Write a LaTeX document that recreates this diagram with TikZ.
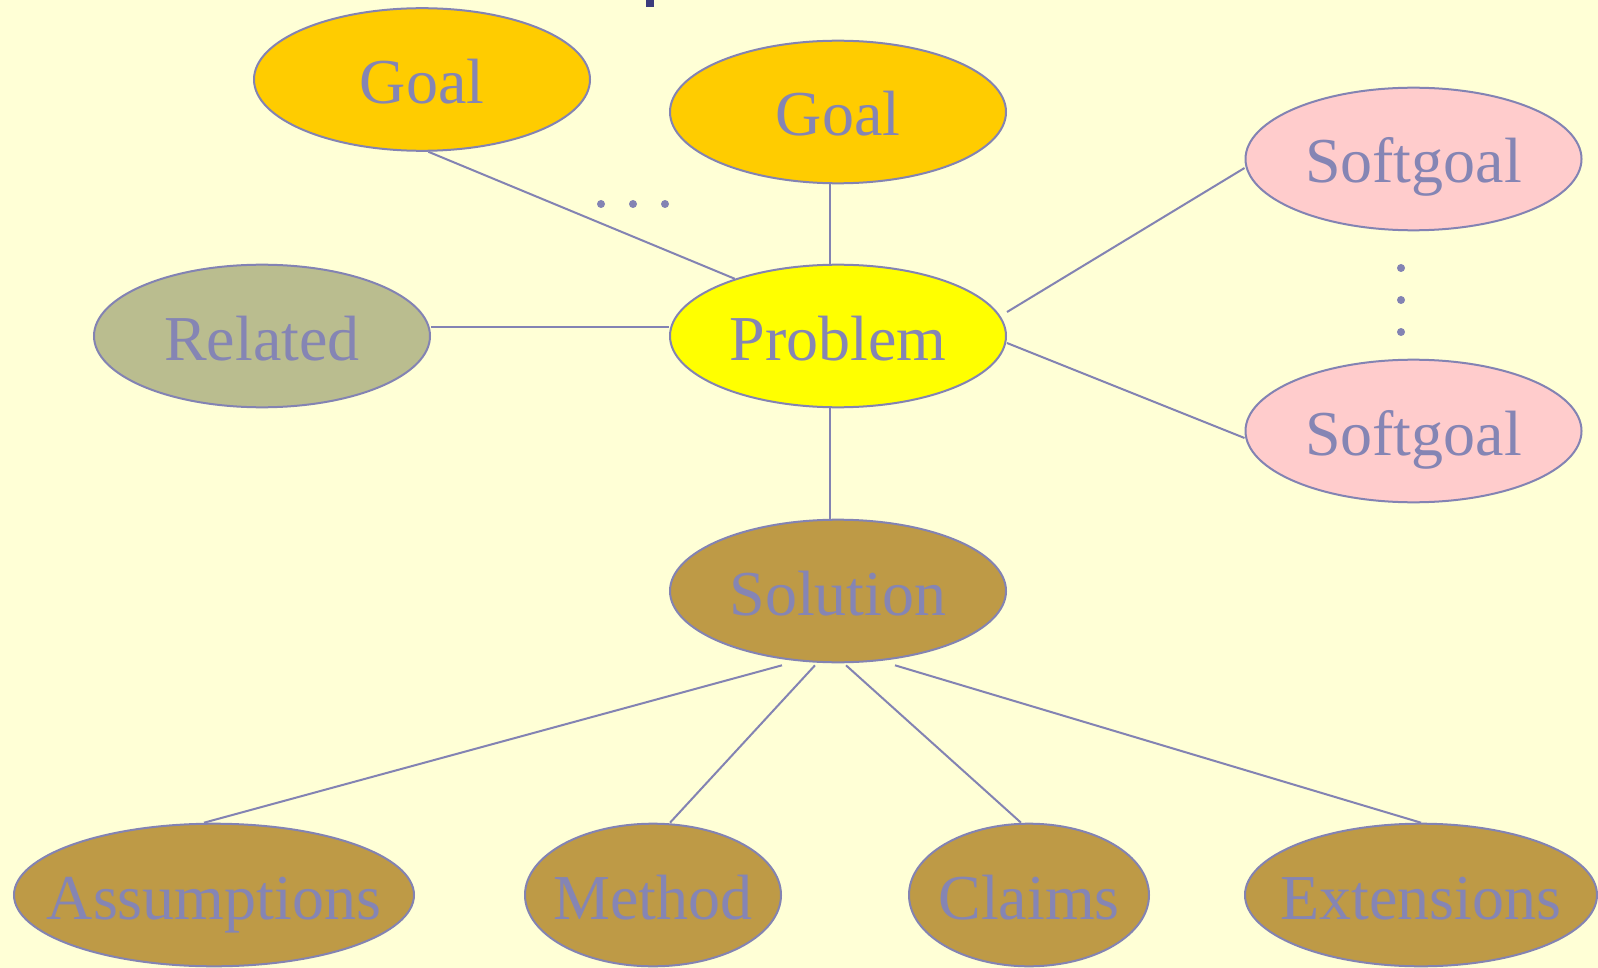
\documentclass[tikz,border=0pt]{standalone}
\usepackage{fontspec}
\setmainfont{Liberation Serif}
\usetikzlibrary{shapes.geometric,calc}
\definecolor{bgc}{HTML}{FFFFD6}
\definecolor{linec}{HTML}{8383B3}
\definecolor{txtc}{HTML}{8585B4}
\definecolor{goalc}{HTML}{FFCC00}
\definecolor{softc}{HTML}{FFCCCC}
\definecolor{relc}{HTML}{BABD8F}
\definecolor{probc}{HTML}{FFFF00}
\definecolor{solc}{HTML}{BE9A46}
\definecolor{markc}{HTML}{3C3C7C}
\tikzset{
  el/.style={ellipse, draw=linec, line width=2pt, inner sep=0pt,
    minimum height=142.6pt},
  every label/.style={text=txtc, font=\fontsize{64}{70}\selectfont,
    text height=48pt, text depth=0pt, inner sep=0pt},
  link/.style={draw=linec, line width=2pt},
  dotc/.style={fill=linec, draw=none}
}
\begin{document}
\begin{tikzpicture}[x=1pt,y=-1pt]
\fill[bgc] (0,0) rectangle (1598,968);
\useasboundingbox (0,0) rectangle (1598,968);
\fill[markc] (646,0) rectangle (654,7);
% nodes
\node[el, fill=goalc, minimum width=336pt, label={center:Goal}] (g1) at (422,79.5) {};
\node[el, fill=goalc, minimum width=336pt, label={center:Goal}] (g2) at (838,112) {};
\node[el, fill=softc, minimum width=336pt, label={center:Softgoal}] (s1) at (1413.5,159) {};
\node[el, fill=softc, minimum width=336pt, label={center:Softgoal}] (s2) at (1413.5,431) {};
\node[el, fill=relc, minimum width=336pt, label={center:Related}] (r) at (262,336) {};
\node[el, fill=probc, minimum width=336pt, label={center:Problem}] (p) at (838,336) {};
\node[el, fill=solc, minimum width=336pt, label={center:Solution}] (sol) at (838,591) {};
\node[el, fill=solc, minimum width=400pt, label={center:Assumptions}] (as) at (214,895) {};
\node[el, fill=solc, minimum width=256pt, label={center:Method}] (me) at (653,895) {};
\node[el, fill=solc, minimum width=240pt, label={center:Claims}] (cl) at (1029,895) {};
\node[el, fill=solc, minimum width=352pt, label={center:Extensions}] (ex) at (1421,895) {};
% links
\path[link] (g1.-85) -- (p.151);
\path[link] ([xshift=-8pt]g2.south) -- ([xshift=-8pt]p.north);
\path[link] ([yshift=9pt]r.east) -- ([yshift=9pt]p.west);
\path[link] ([yshift=24pt]p.east) -- ([yshift=-9pt]s1.west);
\path[link] ([yshift=-7pt]p.east) -- ([yshift=-7pt]s2.west);
\path[link] ([xshift=-8pt]p.south) -- ([xshift=-8pt]sol.north);
\path[link] ([xshift=-56pt,yshift=-2pt]sol.south) -- ([xshift=-10pt]as.north);
\path[link] ([xshift=-23pt,yshift=-2pt]sol.south) -- ([xshift=17pt]me.north);
\path[link] ([xshift=8pt,yshift=-2pt]sol.south) -- ([xshift=-8pt]cl.north);
\path[link] ([xshift=57pt,yshift=-2pt]sol.south) -- (ex.north);
% ellipsis dots
\fill[dotc] (601,204) circle (4pt);
\fill[dotc] (633,204) circle (4pt);
\fill[dotc] (665,204) circle (4pt);
\fill[dotc] (1401,268) circle (4pt);
\fill[dotc] (1401,300) circle (4pt);
\fill[dotc] (1401,332) circle (4pt);
\end{tikzpicture}
\end{document}
